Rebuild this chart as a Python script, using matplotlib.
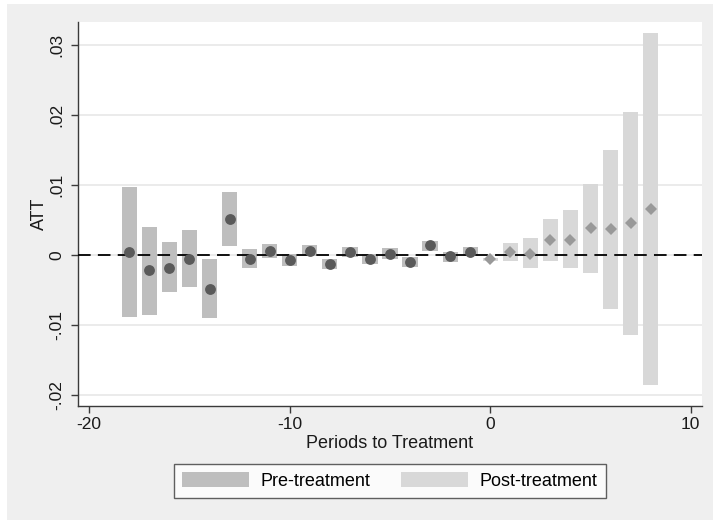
import matplotlib
matplotlib.use("Agg")
import matplotlib.pyplot as plt
from matplotlib.patches import Patch, Rectangle

plt.rcParams['font.family'] = ['Liberation Sans', 'DejaVu Sans']
plt.rcParams['axes.unicode_minus'] = False

pre_periods = [-18, -17, -16, -15, -14, -13, -12, -11, -10, -9, -8, -7, -6, -5, -4, -3, -2, -1]
pre_att = [0.0004, -0.0021, -0.0018, -0.0005, -0.0048, 0.0051, -0.0005, 0.0006, -0.0007,
           0.0006, -0.0013, 0.0004, -0.0006, 0.0002, -0.0010, 0.0014, -0.0002, 0.0005]
pre_lo = [-0.0088, -0.0085, -0.0053, -0.0045, -0.0090, 0.0013, -0.0018, -0.0004, -0.0015,
          -0.0002, -0.0020, -0.0003, -0.0013, -0.0006, -0.0017, 0.0006, -0.0010, -0.0002]
pre_hi = [0.0097, 0.0040, 0.0018, 0.0036, -0.0006, 0.0090, 0.0008, 0.0016, 0.0002,
          0.0014, -0.0006, 0.0011, 0.0002, 0.0010, -0.0003, 0.0020, 0.0005, 0.0011]

post_periods = [0, 1, 2, 3, 4, 5, 6, 7, 8]
post_att = [-0.0006, 0.0005, 0.0002, 0.0021, 0.0022, 0.0038, 0.0037, 0.0046, 0.0066]
post_lo = [-0.0008, -0.0009, -0.0019, -0.0008, -0.0019, -0.0026, -0.0077, -0.0114, -0.0185]
post_hi = [-0.0004, 0.0017, 0.0025, 0.0051, 0.0064, 0.0101, 0.0150, 0.0205, 0.0317]

xticks = [-20, -10, 0, 10]
yticks = [-0.02, -0.01, 0, 0.01, 0.02, 0.03]
ytick_labels = ['-.02', '-.01', '0', '.01', '.02', '.03']

W, H = 713, 520
fig = plt.figure(figsize=(W / 100, H / 100), dpi=100, facecolor='white')
fig.patches.append(Rectangle((7 / W, 0), 1 - 7 / W, 1 - 4 / H, transform=fig.transFigure,
                             facecolor='#efefef', edgecolor='none', zorder=-10))

left, right, top, bottom = 78, 702, 22, 406
ax = fig.add_axes([left / W, 1 - bottom / H, (right - left) / W, (bottom - top) / H])
ax.set_facecolor('white')

pre_col = '#bebebe'
post_col = '#d8d8d8'
bw = 0.76

ax.bar(pre_periods, [h - l for h, l in zip(pre_hi, pre_lo)], bottom=pre_lo, width=bw,
       color=pre_col, edgecolor='none', zorder=2)
ax.bar(post_periods, [h - l for h, l in zip(post_hi, post_lo)], bottom=post_lo, width=bw,
       color=post_col, edgecolor='none', zorder=2)

ax.axhline(0, color='black', linestyle=(0, (7, 4)), linewidth=1.3, zorder=3)

ax.plot(pre_periods, pre_att, linestyle='none', marker='o', markersize=7.8,
        color='#5a5a5a', markeredgewidth=0, zorder=4)
ax.plot(post_periods, post_att, linestyle='none', marker='D', markersize=6.6,
        color='#999999', markeredgewidth=0, zorder=4)

ax.set_xlim(-20.56, 10.56)
ax.set_ylim(-(bottom - 255) / 7000, (255 - top) / 7000)

ax.set_yticks(yticks)
ax.set_yticklabels(ytick_labels, rotation=90, va='center')
ax.set_xticks(xticks)
ax.yaxis.grid(True, color='#e8e8e8', linewidth=1.2, zorder=0)
ax.set_axisbelow(True)

for s in ['top', 'right']:
    ax.spines[s].set_visible(False)
for s in ['left', 'bottom']:
    ax.spines[s].set_color('#3a3a3a')
    ax.spines[s].set_linewidth(1.0)

ax.tick_params(axis='both', direction='out', length=5, width=1.0, color='#3a3a3a',
               labelsize=12.5, labelcolor='#1a1a1a')
ax.tick_params(axis='x', pad=3)
ax.tick_params(axis='y', pad=5)

ax.set_xlabel('Periods to Treatment', fontsize=13, color='#1a1a1a', labelpad=2)
ax.set_ylabel('ATT', fontsize=13, color='#1a1a1a', labelpad=1)

handles = [Patch(facecolor=pre_col, edgecolor='none', label='Pre-treatment'),
           Patch(facecolor=post_col, edgecolor='none', label='Post-treatment')]
leg = fig.legend(handles=handles, loc='center', bbox_to_anchor=(390 / W, 1 - 481 / H),
                 ncol=2, fontsize=13, frameon=True, fancybox=False,
                 handlelength=3.7, handleheight=0.85, handletextpad=0.65,
                 columnspacing=1.7, borderpad=0.45, borderaxespad=0)
leg.get_frame().set_edgecolor('#3a3a3a')
leg.get_frame().set_linewidth(1.0)
leg.get_frame().set_facecolor('white')

fig.savefig('out.png', dpi=100, facecolor=fig.get_facecolor())
